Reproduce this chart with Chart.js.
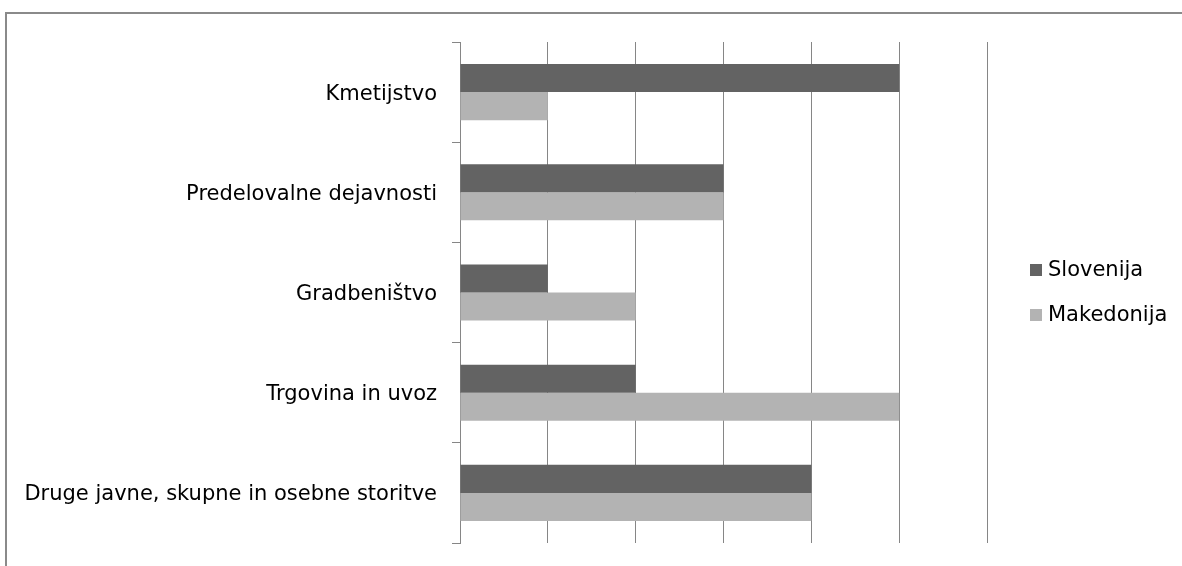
<!DOCTYPE html>
<html>
<head>
<meta charset="utf-8">
<script src="https://cdn.jsdelivr.net/npm/chart.js@4"></script>
<style>
html,body{margin:0;padding:0;background:#fff;overflow:hidden;}
#frame{position:absolute;left:5px;top:12px;width:1400px;height:800px;border:2px solid #8a8a8a;box-sizing:border-box;}
#wrap{position:absolute;left:0;top:0;width:1182px;height:566px;}
</style>
</head>
<body>
<div id="frame"></div>
<div id="wrap"><canvas id="c" width="1182" height="566"></canvas></div>
<script>
const categories = ["Kmetijstvo", "Predelovalne dejavnosti", "Gradbeništvo", "Trgovina in uvoz", "Druge javne, skupne in osebne storitve"];
const slovenija = [5, 3, 1, 2, 4];
const makedonija = [1, 3, 2, 5, 4];
const seriesNames = ["Slovenija", "Makedonija"];
const seriesColors = ["#636363", "#b3b3b3"];

const FONT = "DejaVu Sans";
const FSIZE = 21;

const legendPlugin = {
  id: 'sideLegend',
  afterDraw(chart) {
    const ctx = chart.ctx;
    const ca = chart.chartArea;
    const midY = (ca.top + ca.bottom) / 2;
    const gap = 45;
    const n = chart.data.datasets.length;
    ctx.save();
    ctx.font = FSIZE + "px '" + FONT + "'";
    ctx.textBaseline = 'middle';
    ctx.textAlign = 'left';
    chart.data.datasets.forEach((ds, i) => {
      const y = midY - ((n - 1) * gap) / 2 + i * gap;
      const x = ca.right + 43;
      ctx.fillStyle = ds.backgroundColor;
      ctx.fillRect(x, y - 6, 12, 12);
      ctx.fillStyle = '#000';
      ctx.fillText(ds.label, x + 18, y + 1);
    });
    ctx.restore();
  }
};

new Chart(document.getElementById('c'), {
  type: 'bar',
  data: {
    labels: categories,
    datasets: [
      { label: seriesNames[0], data: slovenija, backgroundColor: seriesColors[0], categoryPercentage: 0.56, barPercentage: 1.0 },
      { label: seriesNames[1], data: makedonija, backgroundColor: seriesColors[1], categoryPercentage: 0.56, barPercentage: 1.0 }
    ]
  },
  options: {
    indexAxis: 'y',
    responsive: false,
    animation: false,
    layout: { padding: { top: 42, bottom: 23, left: 0, right: 195 } },
    plugins: { legend: { display: false }, tooltip: { enabled: false } },
    scales: {
      x: {
        min: 0, max: 6,
        afterFit(scale) { scale.height = 0; },
        ticks: { display: false, stepSize: 1 },
        grid: { color: '#868686', lineWidth: 1, drawTicks: false },
        border: { display: false }
      },
      y: {
        afterFit(scale) { scale.width = 460; scale.paddingTop = 0; scale.paddingBottom = 0; },
        ticks: { color: '#000', font: { family: FONT, size: FSIZE }, padding: 15, labelOffset: 2 },
        grid: { drawOnChartArea: false, color: '#868686', tickLength: 8, offset: true },
        border: { display: true, color: '#868686', width: 1 }
      }
    }
  },
  plugins: [legendPlugin]
});
</script>
</body>
</html>
